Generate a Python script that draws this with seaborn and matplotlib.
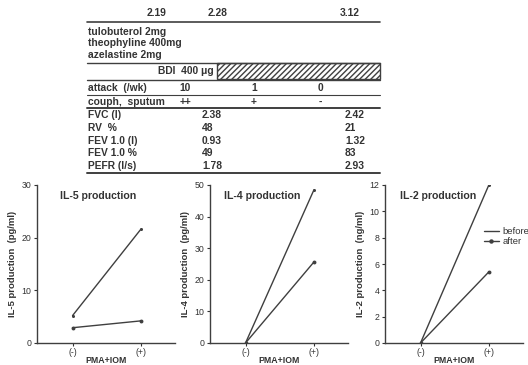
import matplotlib
matplotlib.use("Agg")
import matplotlib.pyplot as plt
import numpy as np
import pandas as pd
import seaborn as sns
from matplotlib.lines import Line2D
from matplotlib.patches import Rectangle

# ---------------- data ----------------
dates = ["2.19", "2.28", "3.12"]
drugs = ["tulobuterol 2mg", "theophyline 400mg", "azelastine 2mg"]
bdi_label = "BDI  400 \u03bcg"
attack_label = "attack  (/wk)"
attack = ["10", "1", "0"]
cough_label = "couph,  sputum"
cough = ["++", "+", "-"]
lung_params = ["FVC (l)", "RV  %", "FEV 1.0 (l)", "FEV 1.0 %", "PEFR (l/s)"]
lung_before = ["2.38", "48", "0.93", "49", "1.78"]
lung_after = ["2.42", "21", "1.32", "83", "2.93"]

conditions = ["(-)", "(+)"]
il5_before = [5.2, 21.6]
il5_after = [2.9, 4.2]
il4_before = [0.0, 48.4]
il4_after = [0.0, 25.6]
il2_before = [0.0, 12.0]
il2_after = [0.0, 5.4]

panels = [
    ("IL-5 production", "IL-5 production  (pg/ml)", il5_before, il5_after, 30, [0, 10, 20, 30]),
    ("IL-4 production", "IL-4 production  (pg/ml)", il4_before, il4_after, 50, [0, 10, 20, 30, 40, 50]),
    ("IL-2 production", "IL-2 production  (ng/ml)", il2_before, il2_after, 12, [0, 2, 4, 6, 8, 10, 12]),
]

# ---------------- style ----------------
sns.set_style("ticks")
plt.rcParams["font.family"] = ["Liberation Sans", "DejaVu Sans"]
TXT = "#333333"
LN = "#3f3f3f"
W, H = 528, 365

fig = plt.figure(figsize=(W / 100, H / 100), dpi=100)
fig.patch.set_facecolor("white")


def fx(x):
    return x / W


def fy(y):
    return 1 - y / H


def ftext(x, y, s, ha="left", size=7.4, **kw):
    fig.text(fx(x), fy(y), s, ha=ha, va="center", fontsize=size, color=TXT,
             fontweight="bold", **kw)


def hline(y, x0=87, x1=380, lw=1.0):
    fig.add_artist(Line2D([fx(x0), fx(x1)], [fy(y), fy(y)], transform=fig.transFigure,
                          color=LN, lw=lw))


# ---------------- table ----------------
for s, x in zip(dates, [157, 218, 350]):
    ftext(x, 13, s, ha="center")
hline(22, lw=1.2)
for s, y in zip(drugs, [32, 43, 55]):
    ftext(88, y, s)
hline(63, lw=1.0)
ftext(214, 71, bdi_label, ha="right")
fig.add_artist(Rectangle((fx(217), fy(79)), fx(380) - fx(217), fy(63) - fy(79),
                         transform=fig.transFigure, fill=False, hatch="//////",
                         edgecolor=LN, lw=1.0))
hline(80, lw=1.0)
ftext(88, 88, attack_label)
for s, x in zip(attack, [185, 254, 320]):
    ftext(x, 88, s, ha="center")
hline(95, lw=0.8)
ftext(88, 102, cough_label)
for s, x in zip(cough, [185, 254, 320]):
    ftext(x, 102, s, ha="center")
hline(108, lw=1.4)
for i, (p, b, a) in enumerate(zip(lung_params, lung_before, lung_after)):
    y = 115.5 + i * 12.6
    ftext(88, y, p)
    ftext(202, y, b)
    ftext(345, y, a)
hline(173, lw=1.4)

# ---------------- plots ----------------
lefts = [37, 210, 385]
title_x = [0.17, 0.10, 0.11]
bottom = fy(343)
height = fy(185) - fy(343)
width = fx(138)

for left, tx, (title, ylab, before, after, ymax, yt) in zip(lefts, title_x, panels):
    ax = fig.add_axes([fx(left), bottom, width, height])
    df = pd.DataFrame({
        "x": [0, 1, 0, 1],
        "y": before + after,
        "group": ["before", "before", "after", "after"],
    })
    sns.lineplot(data=df[df.group == "before"], x="x", y="y", ax=ax, color=LN,
                 lw=1.0, marker="o", markersize=2.2, markeredgewidth=0, legend=False)
    sns.lineplot(data=df[df.group == "after"], x="x", y="y", ax=ax, color=LN,
                 lw=1.0, marker="o", markersize=2.8, markeredgewidth=0, legend=False)
    ax.set_xlim(-0.52, 1.5)
    ax.set_ylim(0, ymax)
    ax.set_yticks(yt)
    ax.set_xticks([0, 1])
    ax.set_xticklabels(conditions)
    ax.tick_params(axis="y", labelsize=6.3, colors=TXT, length=2, width=0.8, pad=2)
    ax.tick_params(axis="x", labelsize=6.3, colors=TXT, length=2, width=0.8, pad=1.5)
    ax.set_xlabel("PMA+IOM", fontsize=6.3, color=TXT, fontweight="bold", labelpad=-0.5)
    ax.set_ylabel(ylab, fontsize=6.8, color=TXT, fontweight="bold", labelpad=3)
    ax.text(tx, 0.93, title, transform=ax.transAxes,
            fontsize=7.6, color=TXT, fontweight="bold", va="center")
    sns.despine(ax=ax)
    for sp in ("left", "bottom"):
        ax.spines[sp].set_color(LN)
        ax.spines[sp].set_linewidth(1.0)
    ax.set_facecolor("none")
    last_ax = ax

handles = [Line2D([], [], color=LN, lw=1.0),
           Line2D([], [], color=LN, lw=1.0, marker="o", markersize=2.2)]
last_ax.legend(handles, ["before", "after"], loc="upper left",
               bbox_to_anchor=(fx(475), fy(219)), bbox_transform=fig.transFigure,
               frameon=False, fontsize=6.8, handlelength=1.6, handletextpad=0.4,
               labelspacing=0.05, labelcolor=TXT)

fig.savefig("out.png", dpi=100)
